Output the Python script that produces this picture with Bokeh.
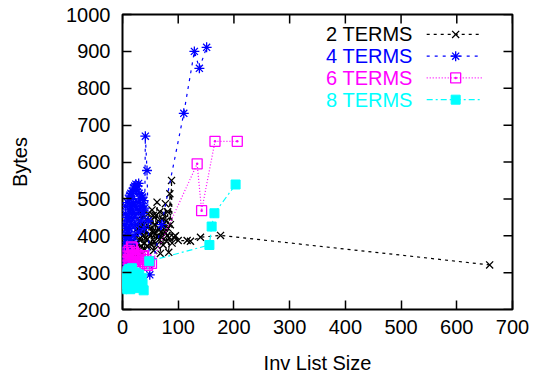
from bokeh.plotting import figure
from bokeh.models import Range1d, FixedTicker
from bokeh.embed import file_html
from bokeh.resources import INLINE
from bokeh.core.properties import value

# ---------------- data ----------------
t2_x = [8, 10, 12, 14, 15, 17, 18, 20, 22, 23, 25, 26, 27, 28, 29, 30, 31, 32, 33, 34,
        35, 36, 37, 38, 39, 40, 41, 42, 43, 44, 45, 46, 47, 48, 49, 50, 51, 52, 53, 54,
        55, 56, 57, 58, 59, 60, 61, 62, 63, 64, 65, 66, 67, 68, 69, 70, 71, 72, 73, 74,
        75, 76, 77, 78, 79, 80, 81, 82, 83, 84, 85, 86, 88, 89, 92, 95, 100, 116,
        122, 140, 176, 659]
t2_y = [330, 345, 360, 340, 372, 355, 385, 350, 368, 395, 340, 378, 420, 410, 360, 390, 440, 420, 372, 455,
        350, 400, 470, 430, 365, 380, 415, 395, 445, 390, 370, 460, 425, 405, 380, 400, 440, 375, 470, 410,
        455, 360, 385, 430, 405, 455, 375, 491, 400, 440, 420, 390, 465, 352, 410, 395, 445, 430, 375, 460,
        420, 410, 487, 440, 385, 400, 465, 420, 355, 395, 514, 430, 550, 380, 396, 400, 387, 387,
        385, 396, 401, 321]

t4_x = [1, 2, 2, 3, 3, 4, 4, 5, 5, 6, 6, 7, 7, 8, 8, 9, 9, 10, 10, 11,
        11, 12, 12, 13, 13, 14, 14, 15, 15, 16, 16, 17, 18, 18, 19, 20, 20, 21, 22, 22,
        23, 24, 24, 25, 26, 27, 28, 29, 29, 30, 31, 32, 33, 34, 35, 36, 37, 38, 39, 40,
        41, 44, 46, 49, 70, 110, 129, 138, 151]
t4_y = [290, 310, 340, 370, 400, 320, 430, 360, 460, 390, 480, 330, 420, 450, 370, 490, 410, 310, 440, 500,
        380, 470, 350, 510, 420, 390, 480, 515, 450, 360, 500, 430, 520, 470, 400, 530, 490, 450, 535, 380,
        480, 540, 430, 525, 460, 535, 490, 410, 542, 515, 470, 500, 440, 510, 480, 505, 460, 495, 420, 475,
        670, 577, 440, 294, 430, 732, 900, 854, 911]

t6_x = [0, 1, 2, 3, 4, 5, 6, 7, 8, 9, 10, 11, 12, 13, 14, 15, 16, 17, 18, 19,
        20, 22, 23, 24, 26, 28, 30, 32, 34, 36, 38, 40, 42, 45, 48, 52, 134, 142, 166, 206]
t6_y = [270, 290, 310, 280, 330, 300, 345, 320, 290, 355, 335, 305, 360, 325, 345, 300, 370, 347, 367, 330,
        355, 340, 310, 350, 335, 345, 320, 340, 330, 345, 346, 325, 335, 320, 330, 325, 595, 468, 656, 656]

t8_x = [0, 1, 2, 3, 4, 5, 6, 7, 8, 9, 10, 11, 12, 13, 14, 15, 16, 17, 18, 19,
        20, 21, 22, 24, 25, 26, 28, 30, 32, 34, 36, 38, 48, 156, 160, 165, 203]
t8_y = [255, 270, 285, 260, 295, 275, 300, 258, 285, 305, 265, 290, 310, 275, 255, 298, 282, 312, 262, 290,
        300, 270, 285, 300, 258, 290, 275, 295, 262, 285, 270, 252, 331, 375, 425, 461, 539]

labels = ["2 TERMS", "4 TERMS", "6 TERMS", "8 TERMS"]
x_ticks = [0, 100, 200, 300, 400, 500, 600, 700]
y_ticks = [200, 300, 400, 500, 600, 700, 800, 900, 1000]

# ---------------- styles / layout ----------------
FONT = "Liberation Sans"
FS = "20px"
FRAME_W, FRAME_H = 390, 295
X0, X1, Y0, Y1 = 0, 700, 200, 1000
TICK = 9  # px
series = [
    (t2_x, t2_y, "#000000", "3 4", "x"),
    (t4_x, t4_y, "#0000ff", "3 5", "asterisk"),
    (t6_x, t6_y, "#ff00ff", "1 2", "square_dot"),
    (t8_x, t8_y, "#00ffff", "6 3 2 3", "square"),
]

p = figure(frame_width=FRAME_W, frame_height=FRAME_H,
           min_border_left=122, min_border_right=20, min_border_top=14, min_border_bottom=58,
           x_range=Range1d(X0, X1), y_range=Range1d(Y0, Y1),
           output_backend="svg", toolbar_location=None, tools="")
p.background_fill_color = "white"
p.border_fill_color = "white"
p.outline_line_color = "black"
p.outline_line_width = 2
p.xgrid.visible = False
p.ygrid.visible = False

for ax, ticks in ((p.xaxis[0], x_ticks), (p.yaxis[0], y_ticks)):
    ax.ticker = FixedTicker(ticks=ticks)
    ax.minor_tick_line_color = None
    ax.major_tick_in = TICK
    ax.major_tick_out = 0
    ax.major_tick_line_width = 1.5
    ax.axis_line_color = None
    ax.major_label_text_font = FONT
    ax.major_label_text_font_size = FS
    ax.major_label_text_color = "black"
    ax.axis_label_text_font = FONT
    ax.axis_label_text_font_size = FS
    ax.axis_label_text_font_style = "normal"
    ax.axis_label_text_color = "black"

p.xaxis[0].axis_label = "Inv List Size"
p.yaxis[0].axis_label = "Bytes"
p.xaxis[0].major_label_standoff = 10
p.yaxis[0].major_label_standoff = 12
p.xaxis[0].axis_label_standoff = 15
p.yaxis[0].axis_label_standoff = 32

# mirrored ticks on top and right edges (gnuplot style)
dy = TICK * (Y1 - Y0) / FRAME_H
dx = TICK * (X1 - X0) / FRAME_W
p.segment(x0=x_ticks, y0=[Y1] * len(x_ticks), x1=x_ticks, y1=[Y1 - dy] * len(x_ticks),
          line_color="black", line_width=1.5)
p.segment(x0=[X1] * len(y_ticks), y0=y_ticks, x1=[X1 - dx] * len(y_ticks), y1=y_ticks,
          line_color="black", line_width=1.5)

for xs, ys, col, dash, mk in series:
    p.line(xs, ys, line_color=col, line_dash=dash, line_width=1.2)
    if mk == "square":
        p.scatter(xs, ys, marker=mk, size=9, fill_color=col, line_color=col)
    else:
        p.scatter(xs, ys, marker=mk, size=10, fill_color=None, line_color=col, line_width=1.3)

# legend (gnuplot style: label then sample), placed in data coordinates
leg_text_x = 521
leg_line_x0, leg_line_x1 = 546, 646
leg_mark_x = 598
leg_rows = [946, 887, 828, 769]
for (xs, ys, col, dash, mk), lab, ly in zip(series, labels, leg_rows):
    p.text(x=[leg_text_x], y=[ly], text=[lab], text_align="right", text_baseline="middle",
           text_font=value(FONT), text_font_size=FS, text_color=col)
    p.segment(x0=[leg_line_x0], y0=[ly], x1=[leg_line_x1], y1=[ly],
              line_color=col, line_dash=dash, line_width=1.2)
    if mk == "square":
        p.scatter([leg_mark_x], [ly], marker=mk, size=9, fill_color=col, line_color=col)
    else:
        p.scatter([leg_mark_x], [ly], marker=mk, size=10, fill_color=None, line_color=col, line_width=1.3)

open("out.html", "w").write(file_html(p, INLINE))
